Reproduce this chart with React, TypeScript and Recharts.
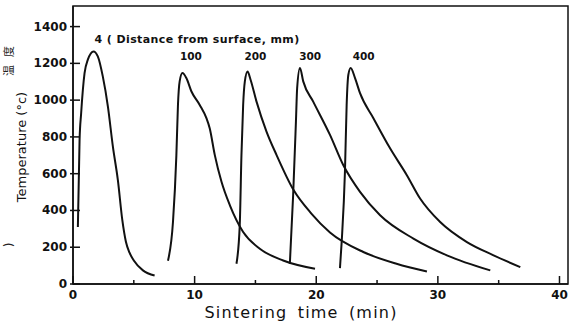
import React from 'react';
import { LineChart, Line, XAxis, YAxis, ReferenceArea, ReferenceDot } from 'recharts';

// sintering time (min) / temperature (°C), one array pair per depth
const t4 = [0.4, 0.54, 0.67, 0.95, 1.22, 1.69, 2.04, 2.45, 2.87, 3.28, 3.69, 4.05, 4.35, 4.65, 5.0, 5.75, 6.71];
const temp4 = [310, 783, 929, 1147, 1220, 1265, 1238, 1129, 965, 747, 565, 350, 230, 170, 128, 74, 46];

const t100 = [7.81, 8.22, 8.5, 8.63, 8.77, 9.0, 9.32, 9.74, 10.42, 10.97, 11.24, 11.66, 12.21, 12.9, 13.99, 15.36, 17.28, 19.9];
const temp100 = [127, 337, 701, 974, 1102, 1147, 1120, 1047, 974, 902, 847, 701, 556, 428, 283, 192, 128, 83];

const t200 = [13.44, 13.71, 13.85, 13.99, 14.13, 14.35, 14.6, 15.09, 15.91, 16.74, 18.1, 19.6, 21.13, 23.87, 26.6, 29.1];
const temp200 = [110, 319, 701, 974, 1102, 1156, 1111, 992, 829, 701, 515, 383, 280, 174, 110, 68];

const t300 = [17.83, 18.1, 18.33, 18.43, 18.66, 18.93, 19.75, 21.13, 22.22, 23.6, 25.25, 27.99, 30.74, 34.31];
const temp300 = [110, 483, 883, 1065, 1175, 1102, 992, 811, 647, 501, 374, 247, 156, 74];

const t400 = [21.95, 22.09, 22.36, 22.5, 22.64, 22.83, 23.19, 23.6, 24.7, 26.07, 27.45, 28.54, 30.19, 32.39, 34.58, 36.78];
const temp400 = [86, 228, 610, 974, 1138, 1175, 1120, 1038, 902, 738, 592, 465, 337, 228, 156, 92];

const xTicks = [0, 5, 10, 15, 20, 25, 30, 35, 40];
const yTicks = [0, 200, 400, 600, 800, 1000, 1200, 1400];

// curve labels, placed in data units
const labelText = ['4 ( Distance from surface, mm)', '100', '200', '300', '400'];
const labelT = [10.2, 9.7, 15.0, 19.5, 23.9];
const labelTemp = [1330, 1240, 1240, 1240, 1240];

const toRows = (ts: number[], vs: number[]) => ts.map((t, i) => ({ t, T: vs[i] }));
const series = [toRows(t4, temp4), toRows(t100, temp100), toRows(t200, temp200), toRows(t300, temp300), toRows(t400, temp400)];

const font = '"DejaVu Sans", sans-serif';

const XTick = (props: any) => {
  const { x, y, payload } = props;
  const major = payload.value % 10 === 0;
  return (
    <g>
      <line x1={x} y1={y} x2={x} y2={y - (major ? 8 : 4)} stroke="#111" strokeWidth={1.5} />
      {major && (
        <text x={x} y={y + 15} textAnchor="middle" fontFamily={font} fontWeight="bold" fontSize={12} fill="#111">
          {payload.value}
        </text>
      )}
    </g>
  );
};

const YTick = (props: any) => {
  const { x, y, payload } = props;
  return (
    <g>
      <line x1={x - 3} y1={y} x2={x + 7} y2={y} stroke="#111" strokeWidth={1.5} />
      <text x={x - 6} y={y + 4} textAnchor="end" fontFamily={font} fontWeight="bold" fontSize={12} fill="#111">
        {payload.value}
      </text>
    </g>
  );
};

export default function App() {
  return (
    <div style={{ position: 'absolute', left: 0, top: 0, width: 578, height: 329, background: '#fff' }}>
      <LineChart width={578} height={329} margin={{ top: 6, right: 10, bottom: 15, left: 33 }}>
        <XAxis
          dataKey="t"
          type="number"
          domain={[0, 40.7]}
          ticks={xTicks}
          tick={<XTick />}
          tickLine={false}
          tickSize={0}
          tickMargin={0}
          height={30}
          axisLine={{ stroke: '#111', strokeWidth: 1.5 }}
          allowDataOverflow
        />
        <YAxis
          type="number"
          domain={[0, 1512]}
          ticks={yTicks}
          tick={<YTick />}
          tickLine={false}
          tickSize={0}
          tickMargin={0}
          width={40}
          axisLine={{ stroke: '#111', strokeWidth: 1.5 }}
          allowDataOverflow
        />
        <ReferenceArea x1={0} x2={40.7} y1={0} y2={1512} fill="none" stroke="#111" strokeWidth={1.5} />
        {series.map((d, i) => (
          <Line
            key={i}
            data={d}
            dataKey="T"
            type="monotone"
            stroke="#111"
            strokeWidth={2}
            dot={false}
            isAnimationActive={false}
          />
        ))}
        {labelText.map((s, i) => (
          <ReferenceDot
            key={s}
            x={labelT[i]}
            y={labelTemp[i]}
            r={0}
            shape={(p: any) => (
              <text
                x={p.cx}
                y={p.cy + 4}
                textAnchor="middle"
                fontFamily={font}
                fontWeight="bold"
                fontSize={i === 0 ? 11 : 10.5}
                letterSpacing={i === 0 ? 0.4 : 0}
                fill="#111"
              >
                {s}
              </text>
            )}
          />
        ))}
      </LineChart>
      <svg width={578} height={329} style={{ position: 'absolute', left: 0, top: 0, pointerEvents: 'none' }}>
        <text transform="translate(26,147) rotate(-90)" textAnchor="middle" fontFamily={font} fontSize={13} fill="#111">
          Temperature (°c)
        </text>
        <text transform="translate(13,57) rotate(-90)" textAnchor="middle" fontFamily='"Noto Sans CJK JP", sans-serif' fontSize={11} fill="#222" letterSpacing={8}>
          温度
        </text>
        <text transform="translate(13,245) rotate(-90)" textAnchor="middle" fontFamily={font} fontSize={12} fill="#222">
          )
        </text>
        <text x={301} y={318} textAnchor="middle" fontFamily={font} fontSize={16} letterSpacing={1.2} wordSpacing={4} fill="#111">
          Sintering time (min)
        </text>
      </svg>
    </div>
  );
}
